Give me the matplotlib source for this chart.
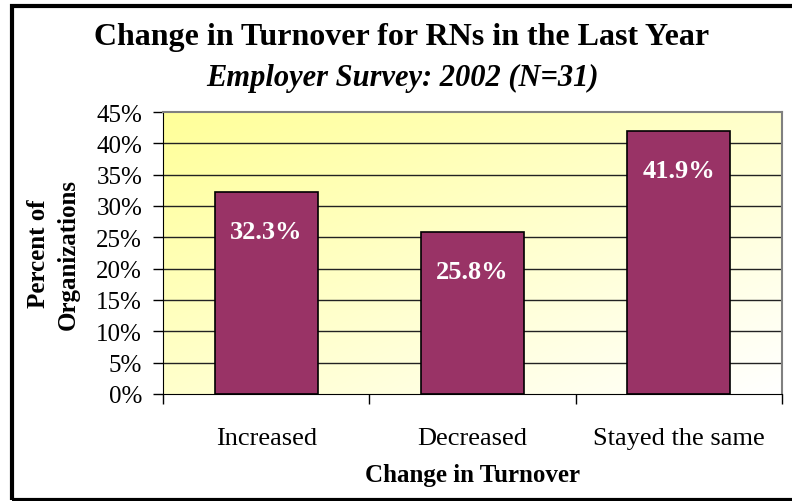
import numpy as np
import matplotlib.pyplot as plt
from matplotlib.patches import Rectangle

categories = ['Increased', 'Decreased', 'Stayed the same']
percents = [32.3, 25.8, 41.9]
yticks = [0, 5, 10, 15, 20, 25, 30, 35, 40, 45]

plt.rcParams['font.family'] = ['Liberation Serif', 'DejaVu Serif']

fig = plt.figure(figsize=(7.92, 5.02), dpi=100)
W, H = 792, 502
ax = fig.add_axes([163 / W, 1 - 395 / H, (782 - 163) / W, (395 - 113) / H])

# diagonal yellow-to-white fill behind the bars
gx, gy = np.meshgrid(np.linspace(0, 1, 200), np.linspace(0, 1, 200))
t = np.clip((gx + gy) / 2, 0, 1)
top = np.array([1.0, 1.0, 0.6])
bot = np.array([1.0, 1.0, 1.0])
img = top[None, None, :] * (1 - t[..., None]) + bot[None, None, :] * t[..., None]
ax.imshow(img, extent=[-0.5, 2.5, 0, 45], aspect='auto', origin='upper', zorder=0)

x = np.arange(len(categories))
for yv in yticks[1:-1]:
    ax.axhline(yv, color='#222222', lw=1.0, zorder=1)

ax.bar(x, percents, width=0.5, color='#993366', edgecolor='black', lw=1.2, zorder=2)
for xi, v in zip(x, percents):
    ax.text(xi, v - 6.3, f'{v:.1f}%', ha='center', va='center', color='white',
            fontsize=19, fontweight='bold', zorder=3)

ax.set_xlim(-0.5, 2.5)
ax.set_ylim(0, 45)
ax.set_yticks(yticks)
ax.set_yticklabels([f'{v}%' for v in yticks], fontsize=18)
ax.set_xticks([-0.5, 0.5, 1.5, 2.5], minor=False)
ax.set_xticklabels([])
ax.set_xticks(x, minor=True)
ax.set_xticklabels(categories, minor=True, fontsize=19)
ax.tick_params(axis='x', which='minor', length=0, pad=24)
ax.tick_params(axis='x', which='major', length=7, width=1, direction='out')
ax.tick_params(axis='y', length=7, width=1, direction='out', pad=8)

for s in ['top', 'right']:
    ax.spines[s].set_color('#808080')
    ax.spines[s].set_linewidth(1.5)
ax.spines['left'].set_color('black')
ax.spines['bottom'].set_color('black')

ax.set_xlabel('Change in Turnover', fontsize=18, fontweight='bold', labelpad=10)
ax.set_ylabel('Percent of\nOrganizations', fontsize=18, fontweight='bold', labelpad=12,
              linespacing=1.35)

fig.text(402 / W, 1 - 38 / H, 'Change in Turnover for RNs in the Last Year',
         ha='center', va='center', fontsize=23, fontweight='bold')
fig.text(402 / W, 1 - 78 / H, 'Employer Survey: 2002 (N=31)',
         ha='center', va='center', fontsize=22, fontweight='bold', style='italic')

# outer frame around the chart
fig.patches.append(Rectangle((12 / W, 1 / H), 1, 1 - 8 / H, transform=fig.transFigure,
                             fill=False, edgecolor='black', lw=3))

fig.savefig('out.png', dpi=100, facecolor='white')
